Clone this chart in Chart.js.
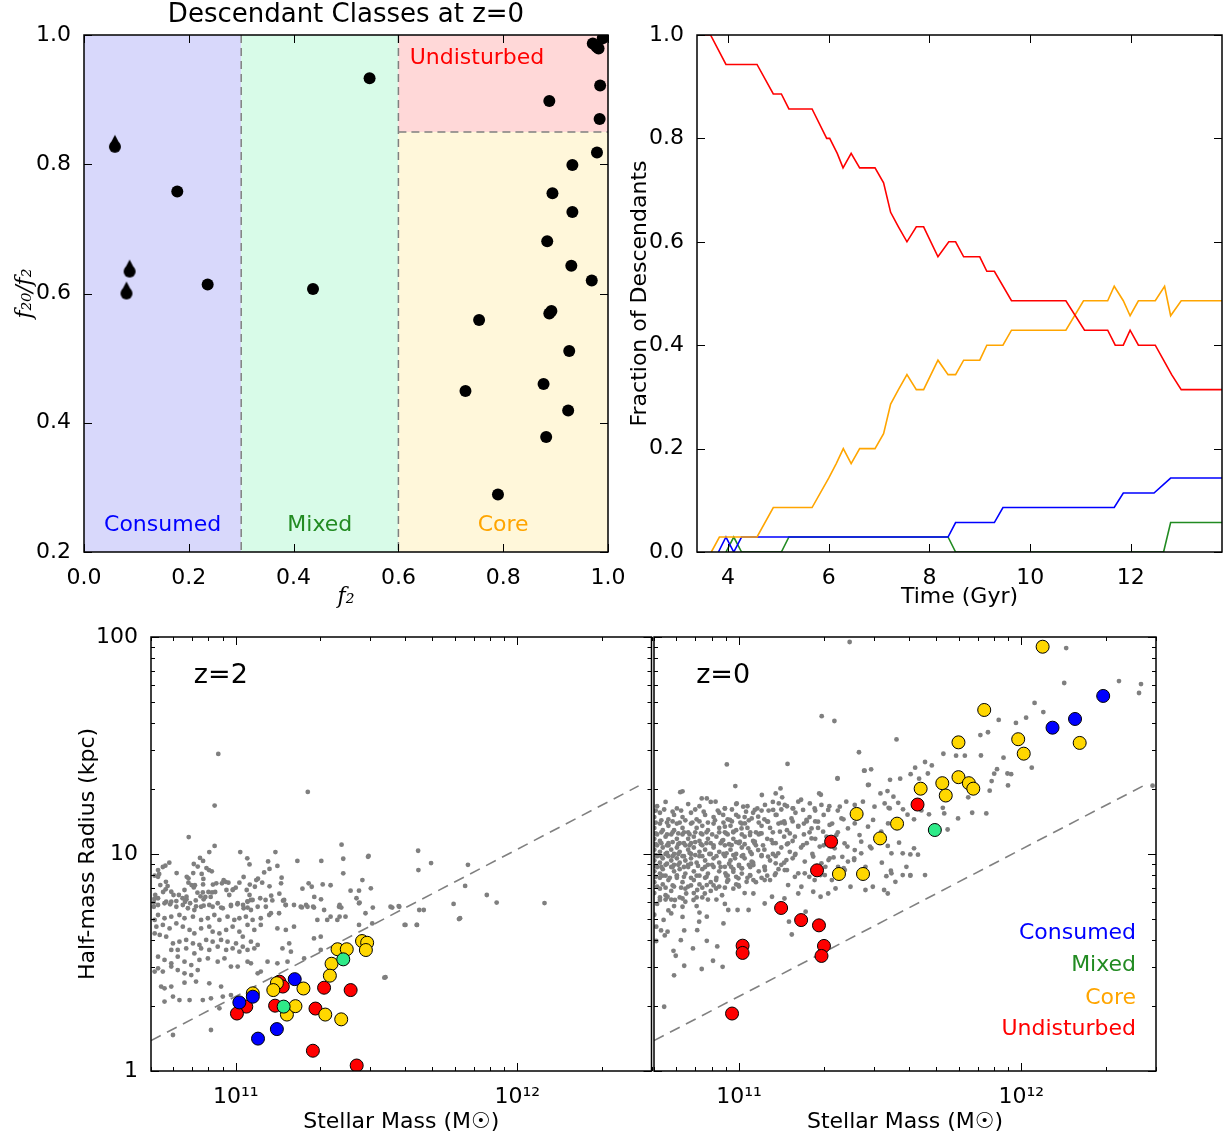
<!DOCTYPE html>
<html>
<head>
<meta charset="utf-8">
<script src="https://cdn.jsdelivr.net/npm/chart.js@4.4.1/dist/chart.umd.min.js"></script>
<style>
  body { margin: 0; background: #fff; overflow: hidden; }
  canvas { position: absolute; }
</style>
</head>
<body>
<canvas id="classes" width="640" height="610" style="left:0;top:0"></canvas>
<canvas id="fraction" width="607" height="610" style="left:620px;top:0"></canvas>
<canvas id="sizeZ2" width="659" height="529" style="left:0;top:610px"></canvas>
<canvas id="sizeZ0" width="583" height="529" style="left:644px;top:610px"></canvas>
<script>
// ---- panel 1: descendant classes at z=0 ----
const classNames = ["Consumed", "Mixed", "Core", "Undisturbed"];
const classColors = ["#0000ff", "#228b22", "#ffa500", "#ff0000"];
const classEdges = [0, 0.3, 0.6, 1.0];
const undisturbedCut = 0.85;

const f2Circle = [0.178, 0.236, 0.437, 0.545, 0.888, 0.985, 0.984, 0.971, 0.982, 0.99, 0.978,
  0.979, 0.932, 0.894, 0.932, 0.884, 0.930, 0.969, 0.754, 0.888, 0.892, 0.926, 0.728, 0.877,
  0.924, 0.882, 0.790];
const ratioCircle = [0.758, 0.614, 0.607, 0.933, 0.898, 0.922, 0.870, 0.987, 0.979, 0.995, 0.982,
  0.818, 0.799, 0.755, 0.726, 0.681, 0.643, 0.620, 0.559, 0.569, 0.573, 0.511, 0.449, 0.460,
  0.419, 0.378, 0.289];
const f2Drop = [0.059, 0.087, 0.081];
const ratioDrop = [0.827, 0.634, 0.600];

// ---- panel 2: class fractions vs time ----
const tUndisturbed = [3.385, 3.654, 3.96, 4.577, 4.9, 5.06, 5.21, 5.67, 5.96, 6.02, 6.17, 6.285,
  6.446, 6.615, 6.92, 7.09, 7.23, 7.385, 7.554, 7.74, 7.885, 8.17, 8.385, 8.52, 8.68, 9.0, 9.14,
  9.29, 9.63, 10.71, 11.08, 11.54, 11.69, 11.85, 11.985, 12.15, 12.485, 12.65, 12.81, 13.0, 13.81];
const fUndisturbed = [1, 1, 0.943, 0.943, 0.886, 0.886, 0.857, 0.857, 0.8, 0.8, 0.771, 0.743,
  0.771, 0.743, 0.743, 0.714, 0.657, 0.629, 0.6, 0.629, 0.629, 0.571, 0.6, 0.6, 0.571, 0.571, 0.543,
  0.543, 0.486, 0.486, 0.429, 0.429, 0.4, 0.4, 0.429, 0.4, 0.4, 0.371, 0.343, 0.314, 0.314];
const tCore = [3.67, 3.83, 4.577, 4.9, 5.67, 6.0, 6.15, 6.29, 6.446, 6.615, 6.92, 7.09, 7.23,
  7.385, 7.554, 7.74, 7.885, 8.17, 8.37, 8.52, 8.68, 9.0, 9.14, 9.46, 9.63, 10.71, 11.06, 11.54,
  11.67, 11.85, 11.985, 12.15, 12.485, 12.67, 12.79, 13.0, 13.81];
const fCore = [0, 0.029, 0.029, 0.086, 0.086, 0.143, 0.171, 0.2, 0.171, 0.2, 0.2, 0.229, 0.286,
  0.314, 0.343, 0.314, 0.314, 0.371, 0.343, 0.343, 0.371, 0.371, 0.4, 0.4, 0.429, 0.429, 0.486,
  0.486, 0.514, 0.486, 0.457, 0.486, 0.486, 0.514, 0.457, 0.486, 0.486];
const tConsumed = [3.81, 3.96, 4.115, 4.27, 8.37, 8.52, 9.29, 9.46, 11.67, 11.85, 12.46, 12.79, 13.81];
const fConsumed = [0, 0.029, 0, 0.029, 0.029, 0.057, 0.057, 0.086, 0.086, 0.114, 0.114, 0.143, 0.143];
const tMixed = [3.96, 4.115, 4.27, 5.06, 5.21, 8.37, 8.52, 12.65, 12.79, 13.81];
const fMixed = [0, 0.029, 0, 0, 0.029, 0.029, 0, 0, 0.057, 0.057];

// ---- panels 3/4: size-mass, stellar mass in 1e11 Msun, radius in kpc ----
const z2Undisturbed = [[1.43, 2.58], [1.47, 2.45], [2.06, 2.42], [2.56, 2.36], [1.38, 2.00],
  [1.09, 1.98], [1.01, 1.84], [1.92, 1.94], [1.88, 1.24], [2.69, 1.06]];
const z2Core = [[2.81, 3.97], [2.93, 3.90], [2.90, 3.61], [2.30, 3.64], [2.48, 3.64], [2.19, 3.12],
  [2.16, 2.75], [1.40, 2.54], [1.36, 2.36], [1.74, 2.40], [1.15, 2.28], [1.52, 1.82], [1.63, 1.99],
  [2.08, 1.82], [2.37, 1.73]];
const z2Mixed = [[2.41, 3.27], [1.48, 1.98]];
const z2Consumed = [[1.62, 2.65], [1.15, 2.20], [1.03, 2.07], [1.40, 1.56], [1.20, 1.41]];

const z0Undisturbed = [[4.29, 16.9], [2.12, 11.4], [1.89, 8.41], [1.41, 5.64], [1.66, 4.96],
  [1.92, 4.69], [1.03, 3.78], [1.03, 3.50], [2.00, 3.77], [1.96, 3.39], [0.945, 1.84]];
const z0Core = [[11.9, 90.2], [7.39, 46.1], [5.99, 32.7], [9.75, 33.8], [10.2, 29.0], [16.1, 32.5],
  [5.99, 22.6], [5.25, 21.2], [6.52, 21.2], [6.76, 20.0], [4.40, 20.0], [5.40, 18.6], [2.61, 15.3],
  [3.63, 13.8], [3.16, 11.8], [2.26, 8.09], [2.75, 8.09]];
const z0Mixed = [[4.94, 12.9]];
const z0Consumed = [[19.5, 53.5], [15.5, 41.9], [12.9, 38.2]];

// reference relation (dashed), mass in 1e11 Msun, radius kpc
const guideM = [0.5, 27];
const guideR = [1.38, 20.6];

// full simulated population, [log10 M*, log10 R]
const popZ2 = [
  [10.938, 1.461], [11.256, 1.286], [10.925, 1.223], [10.833, 1.078], [10.906, 1.009], [10.925, 1.037],
  [11.016, 1.009], [11.141, 1.009], [11.041, 0.980], [11.049, 0.952], [11.115, 0.966], [11.219, 0.968],
  [11.304, 0.968], [11.376, 1.043], [11.382, 0.978], [11.382, 0.911], [11.472, 0.991], [11.450, 0.880],
  [11.480, 0.842], [11.408, 0.831], [11.438, 0.831], [11.429, 0.796], [11.440, 0.776], [11.337, 0.856],
  [11.309, 0.860], [11.270, 0.849], [11.259, 0.865], [11.237, 0.840], [11.279, 0.802], [11.303, 0.791],
  [11.275, 0.757], [11.250, 0.765], [11.235, 0.754], [11.163, 0.891], [11.161, 0.865], [11.155, 0.817],
  [11.168, 0.785], [11.177, 0.765], [11.148, 0.945], [11.120, 0.931], [11.101, 0.915], [11.094, 0.868],
  [11.120, 0.851], [11.073, 0.880], [11.079, 0.886], [11.068, 0.849], [11.050, 0.859], [11.039, 0.834],
  [11.049, 0.811], [11.054, 0.788], [11.042, 0.782], [11.028, 0.894], [11.013, 0.868], [11.000, 0.845],
  [10.989, 0.834], [10.974, 0.868], [10.964, 0.872], [10.957, 0.879], [10.951, 0.865], [10.967, 0.834],
  [10.931, 0.865], [10.919, 0.859], [10.916, 0.823], [10.927, 0.825], [10.911, 0.802], [10.903, 0.825],
  [10.892, 0.802], [10.886, 0.791], [10.883, 0.823], [10.884, 0.860], [10.885, 0.885], [10.879, 0.908],
  [10.873, 0.982], [10.884, 0.968], [10.896, 0.935], [10.905, 0.926], [10.915, 0.920], [10.865, 0.942],
  [10.851, 0.954], [10.849, 0.912], [10.832, 0.888], [10.826, 0.895], [10.832, 0.868], [10.843, 0.857],
  [10.855, 0.856], [10.851, 0.846], [10.864, 0.822], [10.858, 0.786], [10.875, 0.805], [10.825, 0.791],
  [10.818, 0.834], [10.825, 0.803], [10.790, 0.912], [10.764, 0.960], [10.750, 0.946], [10.741, 0.940],
  [10.724, 0.926], [10.728, 0.908], [10.724, 0.895], [10.712, 0.900], [10.752, 0.872], [10.758, 0.852],
  [10.751, 0.837], [10.742, 0.825], [10.732, 0.857], [10.714, 0.811], [10.724, 0.796], [10.711, 0.793],
  [10.709, 0.757], [10.771, 0.826], [10.779, 0.811], [10.798, 0.811], [10.811, 0.796], [10.820, 0.780],
  [10.838, 0.773], [10.859, 0.759], [10.886, 0.762], [10.918, 0.757], [10.948, 0.753], [10.983, 0.765],
  [11.006, 0.768], [11.026, 0.765], [11.042, 0.753], [10.977, 0.811], [10.991, 0.837], [11.060, 0.788],
  [11.087, 0.796], [11.106, 0.788], [11.126, 0.808], [11.130, 0.786], [11.255, 0.757], [11.278, 0.753],
  [11.369, 0.765], [11.375, 0.753], [11.487, 0.753], [11.556, 0.753], [11.581, 0.757], [10.753, 0.780],
  [10.767, 0.768], [10.789, 0.783],
  [10.709, 0.776], [10.724, 0.765], [10.747, 0.773], [10.771, 0.780], [10.789, 0.757], [10.812, 0.765],
  [10.830, 0.750], [10.853, 0.742], [10.877, 0.757], [10.906, 0.765], [10.936, 0.773], [10.954, 0.750],
  [10.983, 0.760], [11.007, 0.773], [11.028, 0.750], [11.042, 0.780], [11.054, 0.742], [11.078, 0.757],
  [11.107, 0.757], [11.125, 0.727], [11.154, 0.727], [11.178, 0.765], [11.207, 0.765], [11.231, 0.757],
  [11.314, 0.742], [11.337, 0.711], [11.367, 0.757], [11.369, 0.711], [11.390, 0.711], [11.438, 0.773],
  [11.461, 0.727], [11.550, 0.757], [11.579, 0.760], [11.668, 0.742], [11.774, 0.770], [11.797, 0.704],
  [11.172, 0.788], [11.119, 0.719], [11.089, 0.704], [11.060, 0.696], [11.036, 0.711], [11.013, 0.704],
  [10.995, 0.696], [10.971, 0.711], [10.942, 0.696], [10.924, 0.719], [10.901, 0.704], [10.877, 0.696],
  [10.848, 0.711], [10.818, 0.704], [10.800, 0.719], [10.771, 0.711], [10.747, 0.704], [10.724, 0.719],
  [10.712, 0.696], [10.718, 0.665], [10.741, 0.673], [10.765, 0.657], [10.789, 0.680], [10.812, 0.665],
  [10.836, 0.650], [10.853, 0.634], [10.877, 0.657], [10.906, 0.665], [10.918, 0.642], [10.942, 0.634],
  [10.966, 0.650], [10.989, 0.665], [11.013, 0.642], [11.042, 0.673], [11.066, 0.650], [11.089, 0.673],
  [11.148, 0.657], [11.178, 0.650], [11.207, 0.665], [11.290, 0.696], [11.325, 0.696], [11.361, 0.696],
  [11.438, 0.673], [11.485, 0.680], [11.603, 0.673], [11.644, 0.673], [11.302, 0.619], [11.278, 0.611],
  [11.190, 0.588], [11.196, 0.550], [11.166, 0.565], [11.078, 0.581], [11.054, 0.596], [11.025, 0.619],
  [11.001, 0.588], [10.971, 0.596], [10.948, 0.604], [10.918, 0.596], [10.895, 0.604], [10.871, 0.581],
  [10.848, 0.588], [10.824, 0.604], [10.800, 0.596], [10.777, 0.588], [10.753, 0.619], [10.730, 0.627],
  [10.712, 0.634], [10.771, 0.558], [10.794, 0.558], [10.824, 0.565], [10.853, 0.542], [10.877, 0.565],
  [10.906, 0.558], [10.936, 0.573], [10.966, 0.558], [10.989, 0.565], [11.013, 0.550], [11.042, 0.558],
  [11.066, 0.565], [11.025, 0.573], [10.724, 0.527], [10.747, 0.512], [10.771, 0.496], [10.794, 0.527],
  [10.818, 0.504], [10.842, 0.488], [10.871, 0.512], [10.901, 0.519], [10.936, 0.504], [10.960, 0.519],
  [10.983, 0.481], [11.007, 0.481], [11.042, 0.504], [11.054, 0.496], [11.113, 0.504], [11.148, 0.496],
  [11.184, 0.504], [11.243, 0.519], [11.302, 0.558], [10.865, 0.465], [10.842, 0.442], [10.818, 0.450],
  [10.794, 0.465], [10.771, 0.481], [10.741, 0.458], [10.724, 0.473], [10.712, 0.458], [11.089, 0.458],
  [11.078, 0.450], [10.735, 0.389], [10.747, 0.381], [10.771, 0.389], [10.818, 0.407], [10.859, 0.412],
  [10.906, 0.404], [10.948, 0.389], [10.747, 0.320], [10.777, 0.343], [10.800, 0.327], [10.836, 0.327],
  [10.883, 0.327], [10.912, 0.335], [10.942, 0.289], [10.954, 0.343], [10.983, 0.350], [10.912, 0.189],
  [10.777, 0.166], [11.532, 0.432],
  [11.648, 1.015], [11.694, 0.958], [11.825, 0.950], [11.793, 0.700], [11.815, 0.853], [11.649, 0.926],
  [11.652, 0.742], [11.600, 0.673], [11.643, 0.673], [11.892, 0.811], [11.927, 0.776], [12.097, 0.774],
  [11.528, 0.430], [11.470, 0.987]
];

const popZ0 = [
  // dense low-mass core
  [10.71, 1.22], [10.74, 1.24], [10.78, 1.21], [10.82, 1.23], [10.86, 1.22], [10.90, 1.24], [10.95, 1.21],
  [10.99, 1.23], [11.03, 1.22], [11.08, 1.20], [11.12, 1.24], [11.17, 1.22], [11.22, 1.25],
  [10.70, 1.17], [10.72, 1.19], [10.75, 1.16], [10.77, 1.18], [10.80, 1.17], [10.83, 1.19], [10.85, 1.16],
  [10.88, 1.18], [10.91, 1.17], [10.93, 1.19], [10.96, 1.16], [10.99, 1.18], [11.02, 1.17], [11.05, 1.19],
  [11.09, 1.16], [11.13, 1.18], [11.16, 1.15], [11.20, 1.19], [11.25, 1.17], [11.30, 1.18], [11.35, 1.20],
  [10.70, 1.12], [10.72, 1.14], [10.73, 1.11], [10.75, 1.13], [10.77, 1.11], [10.78, 1.14], [10.80, 1.12],
  [10.82, 1.10], [10.83, 1.14], [10.85, 1.12], [10.87, 1.13], [10.89, 1.11], [10.91, 1.14], [10.93, 1.12],
  [10.95, 1.10], [10.97, 1.13], [10.99, 1.11], [11.01, 1.14], [11.03, 1.12], [11.06, 1.10], [11.08, 1.13],
  [11.11, 1.12], [11.14, 1.14], [11.17, 1.11], [11.21, 1.13], [11.24, 1.15], [11.28, 1.12], [11.33, 1.14],
  [10.70, 1.07], [10.71, 1.09], [10.72, 1.06], [10.74, 1.08], [10.75, 1.05], [10.76, 1.09], [10.78, 1.07],
  [10.79, 1.05], [10.80, 1.09], [10.82, 1.07], [10.83, 1.05], [10.84, 1.08], [10.86, 1.06], [10.87, 1.09],
  [10.89, 1.07], [10.90, 1.05], [10.92, 1.08], [10.94, 1.06], [10.96, 1.09], [10.98, 1.07], [11.00, 1.05],
  [11.02, 1.08], [11.05, 1.06], [11.07, 1.09], [11.10, 1.07], [11.13, 1.05], [11.16, 1.08], [11.19, 1.06],
  [11.23, 1.09], [11.27, 1.07], [11.31, 1.08],
  [10.70, 1.02], [10.71, 1.04], [10.72, 1.01], [10.73, 1.03], [10.74, 1.00], [10.75, 1.04], [10.76, 1.02],
  [10.77, 1.00], [10.78, 1.03], [10.79, 1.01], [10.81, 1.04], [10.82, 1.02], [10.83, 1.00], [10.84, 1.03],
  [10.86, 1.01], [10.87, 1.04], [10.88, 1.02], [10.90, 1.00], [10.91, 1.03], [10.93, 1.01], [10.95, 1.04],
  [10.97, 1.02], [10.99, 1.00], [11.01, 1.03], [11.04, 1.01], [11.06, 1.04], [11.09, 1.02], [11.12, 1.00],
  [11.15, 1.03], [11.18, 1.01], [11.22, 1.03], [11.26, 1.00],
  [10.70, 0.97], [10.71, 0.99], [10.72, 0.96], [10.73, 0.98], [10.74, 0.95], [10.75, 0.99], [10.76, 0.97],
  [10.77, 0.95], [10.78, 0.98], [10.79, 0.96], [10.80, 0.99], [10.81, 0.97], [10.82, 0.95], [10.83, 0.98],
  [10.85, 0.96], [10.86, 0.99], [10.88, 0.97], [10.89, 0.95], [10.91, 0.98], [10.93, 0.96], [10.95, 0.99],
  [10.97, 0.97], [11.00, 0.95], [11.02, 0.98], [11.05, 0.96], [11.08, 0.99], [11.11, 0.97], [11.15, 0.95],
  [11.19, 0.98],
  [10.70, 0.92], [10.71, 0.94], [10.72, 0.91], [10.73, 0.93], [10.74, 0.90], [10.76, 0.94], [10.77, 0.92],
  [10.78, 0.90], [10.79, 0.93], [10.81, 0.91], [10.82, 0.94], [10.84, 0.92], [10.85, 0.90], [10.87, 0.93],
  [10.89, 0.91], [10.91, 0.94], [10.93, 0.92], [10.96, 0.90], [10.98, 0.93], [11.01, 0.91], [11.04, 0.94],
  [11.07, 0.92], [11.10, 0.90], [11.14, 0.93],
  [10.70, 0.87], [10.72, 0.89], [10.73, 0.86], [10.75, 0.88], [10.77, 0.85], [10.78, 0.89], [10.80, 0.87],
  [10.82, 0.85], [10.84, 0.88], [10.86, 0.86], [10.88, 0.89], [10.90, 0.87], [10.93, 0.85], [10.96, 0.88],
  [10.99, 0.86], [11.03, 0.89], [11.06, 0.87], [11.11, 0.88],
  [10.70, 0.82], [10.72, 0.84], [10.74, 0.81], [10.76, 0.83], [10.79, 0.80], [10.81, 0.84], [10.84, 0.82],
  [10.87, 0.80], [10.90, 0.83], [10.94, 0.81], [10.98, 0.84], [11.02, 0.82],
  [10.71, 0.77], [10.74, 0.79], [10.77, 0.76], [10.81, 0.78], [10.85, 0.76], [10.89, 0.79], [10.95, 0.77],
  [10.70, 0.72], [10.75, 0.74], [10.80, 0.71], [10.86, 0.73],
  [10.705, 1.20], [10.735, 1.205], [10.765, 1.195], [10.795, 1.20], [10.845, 1.205], [10.875, 1.195],
  [10.925, 1.20], [10.975, 1.205], [11.025, 1.195], [11.065, 1.21], [11.105, 1.20], [11.15, 1.205],
  [11.19, 1.21], [11.27, 1.20], [11.32, 1.22],
  [10.705, 1.145], [10.725, 1.155], [10.745, 1.145], [10.765, 1.15], [10.79, 1.145], [10.81, 1.155],
  [10.835, 1.145], [10.86, 1.15], [10.89, 1.145], [10.915, 1.155], [10.945, 1.145], [10.975, 1.15],
  [11.005, 1.145], [11.035, 1.155], [11.07, 1.145], [11.10, 1.15], [11.15, 1.145], [11.19, 1.15],
  [11.23, 1.14], [11.27, 1.15], [11.37, 1.16],
  [10.705, 1.095], [10.725, 1.10], [10.745, 1.09], [10.765, 1.10], [10.785, 1.095], [10.805, 1.10],
  [10.825, 1.09], [10.845, 1.10], [10.865, 1.095], [10.885, 1.10], [10.905, 1.09], [10.93, 1.10],
  [10.955, 1.095], [10.98, 1.10], [11.01, 1.09], [11.04, 1.10], [11.075, 1.095], [11.12, 1.10],
  [11.18, 1.095], [11.25, 1.10], [11.35, 1.10],
  [10.705, 1.045], [10.725, 1.05], [10.745, 1.04], [10.765, 1.055], [10.785, 1.045], [10.805, 1.05],
  [10.825, 1.04], [10.845, 1.055], [10.865, 1.045], [10.885, 1.05], [10.91, 1.04], [10.935, 1.05],
  [10.965, 1.045], [10.99, 1.055], [11.02, 1.045], [11.055, 1.05], [11.085, 1.04], [11.12, 1.05],
  [11.17, 1.045], [11.24, 1.05], [11.30, 1.04],
  [10.705, 0.995], [10.725, 0.99], [10.745, 1.005], [10.765, 0.99], [10.785, 1.0], [10.805, 0.99],
  [10.825, 1.005], [10.845, 0.995], [10.87, 0.99], [10.895, 1.0], [10.92, 0.99], [10.945, 1.0],
  [10.98, 0.995], [11.01, 0.99], [11.045, 1.0], [11.08, 0.995], [11.13, 0.99], [11.20, 1.00],
  [10.705, 0.945], [10.725, 0.94], [10.745, 0.955], [10.765, 0.94], [10.785, 0.95], [10.805, 0.94],
  [10.83, 0.955], [10.855, 0.945], [10.88, 0.94], [10.905, 0.95], [10.935, 0.94], [10.965, 0.955],
  [11.0, 0.945], [11.035, 0.95], [11.09, 0.94], [11.16, 0.96],
  [10.705, 0.895], [10.73, 0.90], [10.755, 0.89], [10.78, 0.90], [10.805, 0.895], [10.83, 0.89],
  [10.86, 0.90], [10.885, 0.895], [10.92, 0.89], [10.955, 0.90], [10.99, 0.895], [11.04, 0.90],
  [11.08, 0.89],
  [10.71, 0.85], [10.74, 0.845], [10.765, 0.855], [10.795, 0.845], [10.83, 0.855], [10.87, 0.845],
  [10.91, 0.855], [10.95, 0.845], [11.0, 0.85],
  [10.72, 0.80], [10.76, 0.79], [10.80, 0.795], [10.85, 0.80], [10.92, 0.79],
  // intermediate masses
  [10.944, 1.180], [10.968, 1.157], [10.998, 1.172], [11.021, 1.141], [11.045, 1.164], [10.950, 1.126],
  [10.980, 1.103], [11.009, 1.118], [11.039, 1.087], [10.944, 1.064], [10.974, 1.041], [11.003, 1.057],
  [11.033, 1.026], [11.056, 1.057], [10.956, 1.003], [10.986, 0.980], [11.015, 0.995], [11.045, 0.965],
  [10.950, 0.941], [10.980, 0.918], [11.009, 0.934], [11.039, 0.903], [10.962, 0.880], [10.998, 0.857],
  [11.027, 0.872],
  [10.868, 1.256], [10.886, 1.256], [10.917, 1.241], [10.950, 1.210], [10.992, 1.233], [11.015, 1.218],
  [11.056, 1.203], [11.092, 1.226], [11.121, 1.203], [11.141, 1.233], [11.162, 1.226], [11.192, 1.210],
  [11.210, 1.241], [11.227, 1.203], [11.251, 1.233], [11.268, 1.210], [11.292, 1.226], [11.316, 1.203],
  [11.357, 1.218], [11.380, 1.241], [11.410, 1.226], [11.439, 1.241], [11.480, 1.218], [11.516, 1.233],
  [11.534, 1.210],
  [11.068, 1.172], [11.103, 1.149], [11.133, 1.180], [11.162, 1.141], [11.186, 1.164], [11.210, 1.126],
  [11.239, 1.157], [11.257, 1.118], [11.280, 1.149], [11.298, 1.103], [11.321, 1.134], [11.345, 1.087],
  [11.363, 1.164], [11.386, 1.118], [11.410, 1.141], [11.427, 1.087], [11.457, 1.126], [11.475, 1.157],
  [11.504, 1.103], [11.528, 1.141], [11.080, 1.095], [11.115, 1.064], [11.145, 1.103], [11.174, 1.049],
  [11.198, 1.080], [11.227, 1.041], [11.257, 1.072], [11.286, 1.034], [11.316, 1.064], [11.339, 1.026],
  [11.374, 1.049], [11.410, 1.018], [11.433, 1.057], [11.469, 1.026], [11.068, 1.018], [11.103, 0.988],
  [11.139, 1.003], [11.168, 0.972], [11.198, 0.995], [11.233, 0.965], [11.263, 0.988], [11.292, 0.957],
  [11.321, 0.980], [11.351, 0.941], [11.386, 0.965], [11.092, 0.926], [11.127, 0.903], [11.162, 0.926],
  [11.198, 0.895], [11.233, 0.911], [11.268, 0.880], [11.304, 0.903], [11.174, 0.857], [11.221, 0.849],
  // high-mass sequence
  [11.724, 1.462], [11.769, 1.453], [11.800, 1.453], [11.857, 1.454], [11.937, 1.444], [11.914, 1.391],
  [11.904, 1.370], [11.951, 1.371], [11.964, 1.368], [11.659, 1.424], [11.683, 1.408], [11.624, 1.398],
  [11.669, 1.371], [11.638, 1.347], [11.608, 1.368], [11.535, 1.342], [11.571, 1.347], [11.526, 1.290],
  [11.501, 1.279], [11.460, 1.319], [11.445, 1.384], [11.468, 1.390], [11.349, 1.347], [11.284, 1.279],
  [11.290, 1.273], [11.147, 1.302], [10.987, 1.313], [11.081, 1.272], [11.130, 1.279], [11.153, 1.261],
  [10.800, 1.289], [10.792, 1.285], [11.895, 1.336], [11.888, 1.292], [11.953, 1.316], [11.812, 1.261],
  [11.776, 1.164], [11.826, 1.190], [11.876, 1.187], [11.739, 1.113], [11.646, 1.201], [11.673, 1.183],
  [11.722, 1.213], [11.727, 1.187], [11.597, 1.181], [11.620, 1.160], [11.581, 1.206], [11.564, 1.236],
  [11.547, 1.264], [11.530, 1.213], [11.580, 1.003], [11.607, 0.998], [11.634, 0.997], [11.620, 1.026],
  [11.527, 1.037], [11.540, 1.003], [11.567, 1.052], [11.607, 0.900], [11.538, 0.923], [11.522, 0.898],
  [11.506, 0.960], [11.464, 1.034], [11.433, 1.003], [11.408, 0.980], [11.384, 1.034], [11.371, 0.935],
  [11.366, 0.987], [11.335, 0.984], [11.317, 0.972], [11.306, 0.941],
  [11.392, 1.977], [12.159, 1.949], [12.152, 1.788], [12.346, 1.797], [12.424, 1.783], [12.417, 1.742],
  [12.047, 1.696], [12.078, 1.654], [12.017, 1.628], [11.981, 1.604], [11.920, 1.618], [11.882, 1.561],
  [11.855, 1.548], [11.293, 1.635], [11.338, 1.613], [11.558, 1.528], [11.425, 1.469], [10.957, 1.413],
  [11.172, 1.415], [12.037, 1.398], [12.465, 1.315], [11.349, 1.349], [11.443, 1.384], [11.457, 1.318],
  // compact tail below the core
  [10.735, 0.296], [10.770, 0.441], [10.806, 0.485], [10.868, 0.470], [10.908, 0.508], [10.942, 0.480],
  [10.776, 0.531], [10.768, 0.554], [10.837, 0.565], [10.886, 0.600], [10.923, 0.574], [10.707, 0.599],
  [10.724, 0.648], [10.737, 0.625], [10.747, 0.642], [10.794, 0.603], [10.806, 0.648], [10.852, 0.649],
  [10.859, 0.688], [10.886, 0.711], [10.945, 0.680], [10.962, 0.742], [10.995, 0.742], [11.034, 0.742],
  [11.051, 0.818], [11.091, 0.772], [11.117, 0.803], [11.161, 0.795], [11.187, 0.629], [11.177, 0.688],
  [11.236, 0.734], [11.289, 0.803], [11.408, 0.972], [11.448, 0.941], [11.527, 0.818], [11.554, 0.872],
  [11.607, 0.903], [11.540, 0.911], [11.580, 0.903], [11.395, 0.849], [11.342, 0.841], [11.316, 0.818],
  [11.263, 0.826], [11.210, 0.818], [11.130, 0.911], [11.091, 0.880], [11.051, 0.880], [10.998, 0.888],
  [10.958, 0.872], [10.919, 0.841], [10.879, 0.818], [10.839, 0.788], [10.800, 0.757], [10.760, 0.726],
  [10.733, 0.696], [10.707, 0.665], [10.720, 0.788], [10.747, 0.803], [10.773, 0.788], [10.813, 0.818],
  [10.852, 0.834], [10.886, 0.857], [10.919, 0.880], [10.952, 0.911], [10.972, 0.941], [11.011, 0.934],
  [11.051, 0.949], [11.091, 0.941], [11.130, 0.957], [11.170, 0.926], [11.210, 0.911], [11.249, 0.895],
  [11.289, 0.903], [11.329, 0.880], [11.368, 0.911], [11.375, 0.926], [11.448, 0.834], [11.474, 0.849],
  [11.514, 0.834], [11.659, 0.903], [11.593, 0.941]
];

// axis ticks
const fracTicks = [0.2, 0.4, 0.6, 0.8, 1.0];
const f2Ticks = [0, 0.2, 0.4, 0.6, 0.8, 1.0];
const timeTicks = [4, 6, 8, 10, 12];
const fracTimeTicks = [0, 0.2, 0.4, 0.6, 0.8, 1.0];
const massTicks = [5e10, 6e10, 7e10, 8e10, 9e10, 1e11, 2e11, 3e11, 4e11, 5e11, 6e11, 7e11, 8e11, 9e11,
  1e12, 2e12, 3e12];
const massLabels = { 1e11: "10¹¹", 1e12: "10¹²" };
const radiusTicks = [1, 2, 3, 4, 5, 6, 7, 8, 9, 10, 20, 30, 40, 50, 60, 70, 80, 90, 100];
const radiusLabels = { 1: "1", 10: "10", 100: "100" };

Chart.defaults.font.family = "'DejaVu Sans', sans-serif";
Chart.defaults.font.size = 22;
Chart.defaults.color = "#000";
Chart.defaults.animation = false;
Chart.defaults.plugins.legend.display = false;
Chart.defaults.plugins.tooltip.enabled = false;

const MATH_FONT = { family: "'DejaVu Serif', serif", style: "italic", size: 22 };

// matplotlib-like frame with inward ticks on all four sides
const frame = {
  id: "frame",
  afterDraw(chart, args, opts) {
    const { ctx, chartArea: a } = chart;
    const isMinor = opts.isMinor || (() => false);
    ctx.save();
    ctx.strokeStyle = "#000";
    ctx.lineWidth = 1;
    ctx.beginPath();
    for (const t of chart.scales.x.ticks) {
      const px = Math.round(chart.scales.x.getPixelForValue(t.value)) + 0.5;
      const len = isMinor(t.value) ? 4 : 8;
      ctx.moveTo(px, a.bottom); ctx.lineTo(px, a.bottom - len);
      ctx.moveTo(px, a.top); ctx.lineTo(px, a.top + len);
    }
    for (const t of chart.scales.y.ticks) {
      const py = Math.round(chart.scales.y.getPixelForValue(t.value)) + 0.5;
      const len = isMinor(t.value) ? 4 : 8;
      ctx.moveTo(a.left, py); ctx.lineTo(a.left + len, py);
      ctx.moveTo(a.right, py); ctx.lineTo(a.right - len, py);
    }
    ctx.stroke();
    ctx.lineWidth = 1.5;
    ctx.strokeRect(a.left, a.top, a.right - a.left, a.bottom - a.top);
    ctx.restore();
  }
};

// free text placed at data coordinates
const notes = {
  id: "notes",
  afterDatasetsDraw(chart, args, opts) {
    const { ctx, scales: { x, y } } = chart;
    ctx.save();
    for (const n of opts.items || []) {
      ctx.font = (n.size || 22) + "px 'DejaVu Sans'";
      ctx.fillStyle = n.color || "#000";
      ctx.textAlign = n.align || "center";
      ctx.textBaseline = "middle";
      ctx.fillText(n.text, x.getPixelForValue(n.x), y.getPixelForValue(n.y));
    }
    ctx.restore();
  }
};

// shaded class regions with dashed boundaries
const regions = {
  id: "regions",
  beforeDatasetsDraw(chart) {
    const { ctx, chartArea: a, scales: { x, y } } = chart;
    const fills = ["#d8d8fb", "#d8fbe8", "#fff7da", "#ffd8d8"];
    const x0 = x.getPixelForValue(classEdges[0]), x1 = x.getPixelForValue(classEdges[1]);
    const x2 = x.getPixelForValue(classEdges[2]), x3 = x.getPixelForValue(classEdges[3]);
    const yc = y.getPixelForValue(undisturbedCut);
    ctx.save();
    ctx.fillStyle = fills[0]; ctx.fillRect(x0, a.top, x1 - x0, a.bottom - a.top);
    ctx.fillStyle = fills[1]; ctx.fillRect(x1, a.top, x2 - x1, a.bottom - a.top);
    ctx.fillStyle = fills[2]; ctx.fillRect(x2, yc, x3 - x2, a.bottom - yc);
    ctx.fillStyle = fills[3]; ctx.fillRect(x2, a.top, x3 - x2, yc - a.top);
    ctx.strokeStyle = "#808080";
    ctx.lineWidth = 1.5;
    ctx.setLineDash([8, 5]);
    ctx.beginPath();
    ctx.moveTo(x1, a.top); ctx.lineTo(x1, a.bottom);
    ctx.moveTo(x2, a.top); ctx.lineTo(x2, a.bottom);
    ctx.moveTo(x2, yc); ctx.lineTo(x3, yc);
    ctx.stroke();
    ctx.restore();
  }
};

function teardrop() {
  const c = document.createElement("canvas");
  c.width = 14; c.height = 40;
  const g = c.getContext("2d");
  g.fillStyle = "#000";
  g.beginPath(); g.arc(7, 20, 6, 0, Math.PI * 2); g.fill();
  g.beginPath(); g.moveTo(2.3, 17); g.lineTo(7, 8); g.lineTo(11.7, 17); g.closePath(); g.fill();
  return c;
}

// fixed axis boxes so every plot area lands where the reference has it
// (chart.js keeps ~5px right padding as a floor, so the paddings below account for it)
const fixWidth = w => s => { s.width = w; s.paddingTop = 0; s.paddingBottom = 0; };
const fixHeight = h => s => { s.height = h; s.paddingLeft = 0; s.paddingRight = 0; };
const useTicks = vals => s => { s.ticks = vals.map(v => ({ value: v })); };
const zip = (xs, ys) => xs.map((v, i) => ({ x: v, y: ys[i] }));
const isMinorLog = v => Math.abs(Math.log10(v) - Math.round(Math.log10(v))) > 1e-6;

// ---------- panel 1 ----------
new Chart(document.getElementById("classes"), {
  type: "scatter",
  data: {
    datasets: [
      { data: zip(f2Circle, ratioCircle), pointRadius: 6, backgroundColor: "#000", borderWidth: 0, clip: 0 },
      { data: zip(f2Drop, ratioDrop), pointStyle: teardrop(), clip: 0 }
    ]
  },
  options: {
    responsive: false,
    layout: { padding: { left: 12, right: 32, top: 0, bottom: 0 } },
    plugins: {
      title: {
        display: true, text: "Descendant Classes at z=0", fullSize: false,
        font: { size: 26, weight: "normal" }, color: "#000", padding: { top: 0, bottom: 3.8 }
      },
      notes: {
        items: [
          { text: classNames[0], color: classColors[0], x: 0.15, y: 0.242 },
          { text: classNames[1], color: classColors[1], x: 0.45, y: 0.242 },
          { text: classNames[2], color: classColors[2], x: 0.80, y: 0.242 },
          { text: classNames[3], color: classColors[3], x: 0.75, y: 0.964 }
        ]
      }
    },
    scales: {
      x: {
        type: "linear", min: 0, max: 1,
        grid: { display: false }, border: { display: false },
        afterBuildTicks: useTicks(f2Ticks), afterFit: fixHeight(58),
        ticks: { padding: 5, callback: v => v.toFixed(1) },
        title: { display: true, text: "f₂", font: MATH_FONT, padding: 0 }
      },
      y: {
        type: "linear", min: 0.2, max: 1,
        grid: { display: false }, border: { display: false },
        afterBuildTicks: useTicks(fracTicks), afterFit: fixWidth(72),
        ticks: { padding: 5, callback: v => v.toFixed(1) },
        title: { display: true, text: "f₂₀/f₂", font: MATH_FONT, padding: 0 }
      }
    }
  },
  plugins: [regions, notes, frame]
});

// ---------- panel 2 ----------
const fracSeries = [
  [tUndisturbed, fUndisturbed, classColors[3]],
  [tCore, fCore, classColors[2]],
  [tConsumed, fConsumed, classColors[0]],
  [tMixed, fMixed, classColors[1]]
];
new Chart(document.getElementById("fraction"), {
  type: "line",
  data: {
    datasets: fracSeries.map(([t, f, c]) => ({
      data: zip(t, f), borderColor: c, borderWidth: 1.6, pointRadius: 0, tension: 0, fill: false
    }))
  },
  options: {
    responsive: false,
    layout: { padding: { left: 7, right: 5, top: 35, bottom: 0 } },
    scales: {
      x: {
        type: "linear", min: 3.385, max: 13.81,
        grid: { display: false }, border: { display: false },
        afterBuildTicks: useTicks(timeTicks), afterFit: fixHeight(58),
        ticks: { padding: 5 },
        title: { display: true, text: "Time (Gyr)", padding: 0 }
      },
      y: {
        type: "linear", min: 0, max: 1,
        grid: { display: false }, border: { display: false },
        afterBuildTicks: useTicks(fracTimeTicks), afterFit: fixWidth(70),
        ticks: { padding: 5, callback: v => v.toFixed(1) },
        title: { display: true, text: "Fraction of Descendants", padding: 0 }
      }
    }
  },
  plugins: [frame]
});

// ---------- panels 3 & 4 ----------
const toPoints = arr => arr.map(([m, r]) => ({ x: m * 1e11, y: r }));
const fromLog = arr => arr.map(([lm, lr]) => ({ x: Math.pow(10, lm), y: Math.pow(10, lr) }));
const marker = (data, color, order) => ({
  data: toPoints(data), pointRadius: 6.5, backgroundColor: color, borderColor: "#000",
  borderWidth: 1, order
});

function sizeMassChart(id, pop, und, core, mixed, cons, opts) {
  return new Chart(document.getElementById(id), {
    type: "scatter",
    data: {
      datasets: [
        { data: fromLog(pop), pointRadius: 2.4, backgroundColor: "#7f7f7f", borderWidth: 0, order: 6, clip: 0 },
        {
          data: zip(guideM.map(m => m * 1e11), guideR), showLine: true, pointRadius: 0,
          borderColor: "#808080", borderWidth: 1.6, borderDash: [11, 7], order: 7
        },
        marker(und, "#ff0000", 4),
        marker(core, "#ffd700", 3),
        marker(mixed, "#2eea88", 2),
        marker(cons, "#0000ff", 1)
      ]
    },
    options: {
      responsive: false,
      layout: { padding: opts.padding },
      plugins: {
        frame: { isMinor: isMinorLog },
        notes: { items: opts.notes }
      },
      scales: {
        x: {
          type: "logarithmic", min: 5e10, max: 3e12,
          grid: { display: false }, border: { display: false },
          afterBuildTicks: useTicks(massTicks), afterFit: fixHeight(64),
          ticks: { padding: 5, autoSkip: false, maxRotation: 0, callback: v => massLabels[v] || "" },
          title: { display: true, text: "Stellar Mass (M☉)", padding: 0 }
        },
        y: {
          type: "logarithmic", min: 1, max: 100,
          grid: { display: false }, border: { display: false },
          afterBuildTicks: useTicks(radiusTicks), afterFit: fixWidth(opts.yWidth),
          ticks: { display: opts.yLabels, padding: 5, autoSkip: false, callback: v => radiusLabels[v] || "" },
          title: { display: opts.yLabels, text: "Half-mass Radius (kpc)", padding: 0 }
        }
      }
    },
    plugins: [notes, frame]
  });
}

sizeMassChart("sizeZ2", popZ2, z2Undisturbed, z2Core, z2Mixed, z2Consumed, {
  padding: { left: 75, right: 5, top: 27, bottom: 4 }, yWidth: 76, yLabels: true,
  notes: [{ text: "z=2", x: 7.1e10, y: 66, size: 27, align: "left" }]
});

sizeMassChart("sizeZ0", popZ0, z0Undisturbed, z0Core, z0Mixed, z0Consumed, {
  padding: { left: 0, right: 71, top: 27, bottom: 4 }, yWidth: 10, yLabels: false,
  notes: [
    { text: "z=0", x: 7.05e10, y: 66, size: 27, align: "left" },
    { text: classNames[0], color: classColors[0], x: 2.55e12, y: 4.32, align: "right" },
    { text: classNames[1], color: classColors[1], x: 2.55e12, y: 3.08, align: "right" },
    { text: classNames[2], color: classColors[2], x: 2.55e12, y: 2.17, align: "right" },
    { text: classNames[3], color: classColors[3], x: 2.55e12, y: 1.55, align: "right" }
  ]
});
</script>
</body>
</html>
